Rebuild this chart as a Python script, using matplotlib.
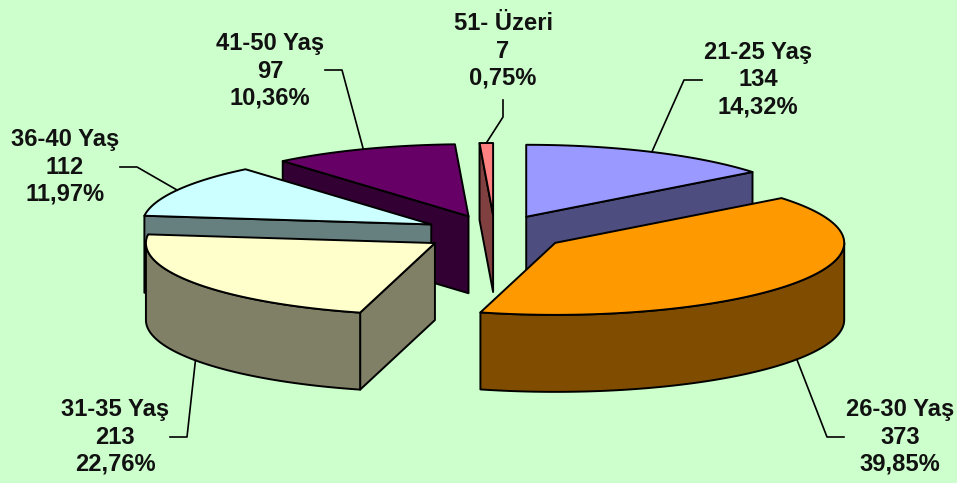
import matplotlib
matplotlib.use("Agg")
import matplotlib.pyplot as plt
from matplotlib.patches import Polygon
import numpy as np

# data
categories = ["21-25 Yaş", "26-30 Yaş", "31-35 Yaş", "36-40 Yaş", "41-50 Yaş", "51- Üzeri"]
counts = [134, 373, 213, 112, 97, 7]
percents = ["14,32%", "39,85%", "22,76%", "11,97%", "10,36%", "0,75%"]

# colours: top face, side face
top_colors = ["#9999FF", "#FF9900", "#FFFFCC", "#CCFFFF", "#660066", "#FF8080"]
side_colors = ["#4D4D80", "#804D00", "#808066", "#668080", "#330033", "#804040"]

# pie geometry in pixels of the 957x483 picture
cx, cy = 494.8, 233
rx, ry = 289, 72
depth = 77
explode = 0.25
draw_order = [5, 4, 0, 3, 2, 1]  # back to front

# label centres, leader knee and leader end
label_pos = [(758, 80), (900, 437), (115, 437), (65, 167), (270, 71), (503, 51)]
leader_knee = [(684, 80), (827, 437), (187, 437), (137, 167), (342, 70), (503, 117)]
leader_end = [(702, 80), (844, 437), (170, 437), (120, 167), (325, 70), (503, 100)]

bg = "#CCFFCC"
line_w = 1.4


def rim(apex, deg):
    t = np.radians(deg)
    return np.column_stack((apex[0] + rx * np.sin(t), apex[1] - ry * np.cos(t)))


def add_face(ax, pts, color, z):
    ax.add_patch(Polygon(pts, closed=True, facecolor=color, edgecolor="black",
                         linewidth=line_w, joinstyle="round", zorder=z))


fig = plt.figure(figsize=(9.57, 4.83), dpi=100, facecolor=bg)
ax = fig.add_axes([0, 0, 1, 1])
ax.set_xlim(0, 957)
ax.set_ylim(483, 0)
ax.axis("off")

edges = np.concatenate(([0], np.cumsum(counts))) / np.sum(counts) * 360
down = np.array([0, depth])

for z, i in enumerate(draw_order):
    a0, a1 = edges[i], edges[i + 1]
    mid = np.radians((a0 + a1) / 2)
    apex = np.array([cx + explode * rx * np.sin(mid), cy - explode * ry * np.cos(mid)])
    base = z * 10

    # radial faces, only the ones turned towards the viewer
    for ang, sign in ((a0, -1), (a1, 1)):
        if sign * np.sin(np.radians(ang)) > 1e-6:
            p = rim(apex, np.array([ang]))[0]
            add_face(ax, [apex, p, p + down, apex + down], side_colors[i], base)

    # outer wall on the front half of the ellipse
    w0, w1 = max(a0, 90), min(a1, 270)
    if w1 > w0:
        arc = rim(apex, np.linspace(w0, w1, 80))
        add_face(ax, np.vstack((arc, (arc + down)[::-1])), side_colors[i], base + 1)

    # top face
    arc = rim(apex, np.linspace(a0, a1, 120))
    add_face(ax, np.vstack(([apex], arc)), top_colors[i], base + 2)

    # leader line, starts on the rim at the middle of the slice
    start = rim(apex, np.array([np.degrees(mid)]))[0]
    if np.cos(mid) < 0:
        start = start + down
    xs = [start[0], leader_knee[i][0], leader_end[i][0]]
    ys = [start[1], leader_knee[i][1], leader_end[i][1]]
    ax.plot(xs, ys, color="black", lw=1.2, zorder=100)

    ax.text(label_pos[i][0], label_pos[i][1],
            f"{categories[i]}\n{counts[i]}\n{percents[i]}",
            ha="center", va="center", ma="center", fontsize=17.1, fontweight="bold",
            family="Liberation Sans", color="#111111", linespacing=1.24, zorder=101)

fig.savefig("out.png", dpi=100, facecolor=bg)
